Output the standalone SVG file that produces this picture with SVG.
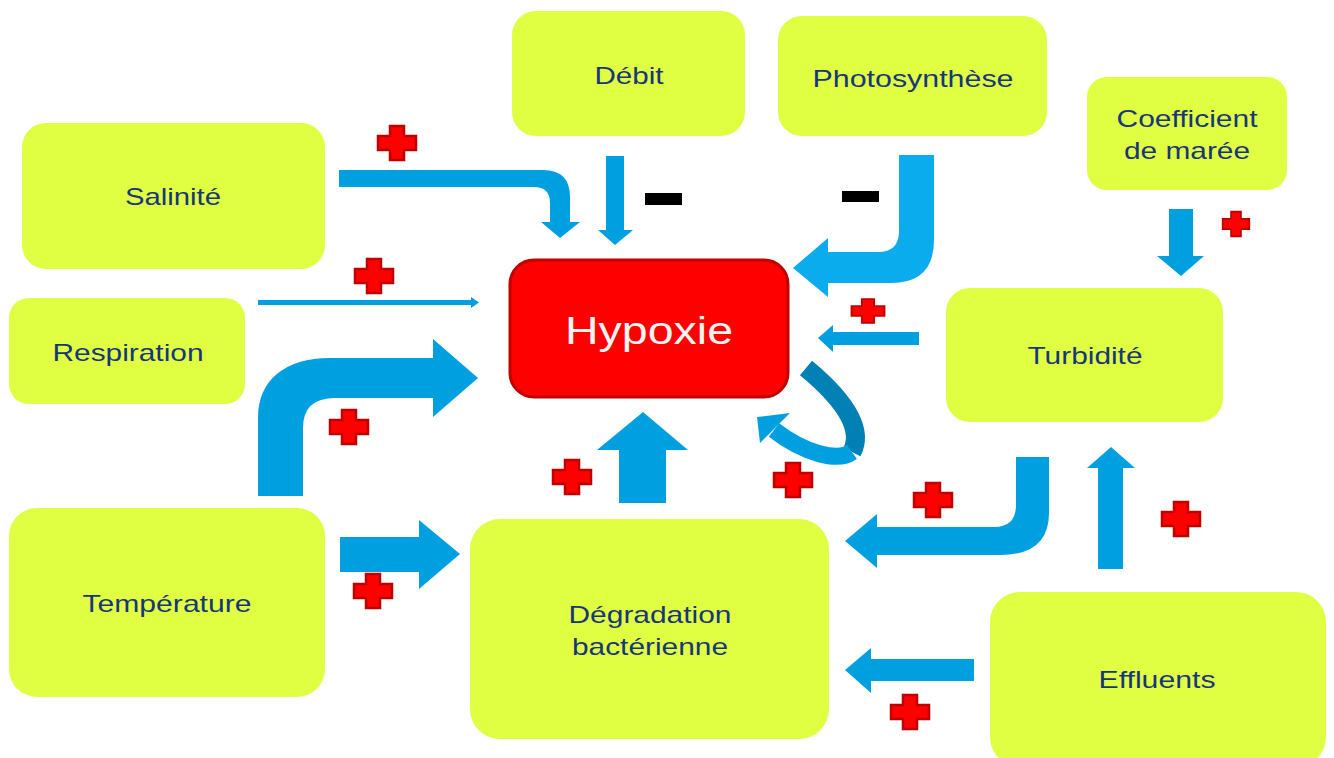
<svg xmlns="http://www.w3.org/2000/svg" width="1334" height="758" viewBox="0 0 1334 758">
<defs>
<style>
.node{fill:#e0ff42;}
.lbl{font-family:"Liberation Sans",Arial,sans-serif;font-size:24px;fill:#17367a;text-anchor:middle;}
.hyp{fill:#ff0000;stroke:#c00000;stroke-width:3;}
.hlbl{font-family:"Liberation Sans",Arial,sans-serif;font-size:39px;fill:#f4f4f4;text-anchor:middle;}
.arr{fill:#00a0e0;}
.arr2{fill:#0aacee;}
.minus{fill:#000;}
.plus{fill:#ff0000;stroke:#c00000;stroke-width:2.5;}
</style>
<path id="plus" d="M-7,-17 H7 V-7 H19 V7 H7 V17 H-7 V7 H-19 V-7 H-7 Z"/>
</defs>
<rect width="1334" height="758" fill="#ffffff"/>

<g id="connectors">
<!-- Salinité -> Hypoxie -->
<path class="arr" d="M339,170 L543,170 Q570,170 570,197 L570,222 L580,222 L560,238 L541,222 L550,222 L550,203 Q550,187 534,187 L339,187 Z"/>
<!-- Débit -> Hypoxie -->
<path class="arr" d="M606,156 L624,156 L624,230 L633,230 L615,245 L598,230 L606,230 Z"/>
<!-- Photosynthèse -> Hypoxie -->
<path class="arr2" d="M899,155 L934,155 L934,240 Q934,283 891,283 L828,283 L828,297 L793,268 L828,238 L828,252 L878,252 Q899,252 899,231 Z"/>
<!-- Respiration -> Hypoxie -->
<path class="arr" d="M258,300 L471,300 L471,297 L479,302.5 L471,308 L471,305 L258,305 Z"/>
<!-- Température -> Hypoxie (bent) -->
<path class="arr" d="M258,496 L258,418 C258,380 285,358 330,358 L433,358 L433,339 L478,378 L433,417 L433,398 L335,398 Q303,398 303,428 L303,496 Z"/>
<!-- Température -> Dégradation -->
<path class="arr" d="M340,537 L419,537 L419,520 L460,554 L419,589 L419,572 L340,572 Z"/>
<!-- Dégradation -> Hypoxie -->
<path class="arr" d="M619,503 L619,450 L597,450 L643,412 L688,450 L666,450 L666,503 Z"/>
<!-- Self loop -->
<path d="M806,368 C835,392 866,425 852,452" fill="none" stroke="#0080b4" stroke-width="19"/>
<path d="M852,452 C838,462 805,454 774,430" fill="none" stroke="#00a0e0" stroke-width="17"/>
<polygon points="757,417 790,413 760,443" fill="#00a0e0"/>
<!-- Turbidité -> Hypoxie -->
<path class="arr" d="M919,332 L833,332 L833,325 L818,338 L833,352 L833,345 L919,345 Z"/>
<!-- Coefficient -> Turbidité -->
<path class="arr" d="M1169,209 L1193,209 L1193,256 L1204,256 L1181,276 L1157,256 L1169,256 Z"/>
<!-- Turbidité/Effluents bend -> Dégradation -->
<path class="arr" d="M1016,457 L1049,457 L1049,513 Q1049,555 1000,555 L877,555 L877,568 L845,541 L877,514 L877,527 L994,527 Q1016,527 1016,505 Z"/>
<!-- Effluents -> Turbidité -->
<path class="arr" d="M1098,569 L1098,468 L1087,468 L1111,447 L1135,468 L1123,468 L1123,569 Z"/>
<!-- Effluents -> Dégradation -->
<path class="arr" d="M974,659 L871,659 L871,648 L845,670 L871,693 L871,681 L974,681 Z"/>

<!-- signs -->
<rect class="minus" x="645" y="193" width="37" height="12"/>
<rect class="minus" x="842" y="191" width="37" height="11"/>
<use href="#plus" class="plus" transform="translate(397,143)"/>
<use href="#plus" class="plus" transform="translate(374,276)"/>
<use href="#plus" class="plus" transform="translate(349,427)"/>
<use href="#plus" class="plus" transform="translate(373,591)"/>
<use href="#plus" class="plus" transform="translate(572,477)"/>
<use href="#plus" class="plus" transform="translate(793,480)"/>
<use href="#plus" class="plus" transform="translate(933,500)"/>
<use href="#plus" class="plus" transform="translate(1181,519)"/>
<use href="#plus" class="plus" transform="translate(910,712)"/>
<use href="#plus" class="plus" transform="translate(868,311) scale(0.86,0.7)"/>
<use href="#plus" class="plus" transform="translate(1236,224) scale(0.7,0.72)"/>
</g>

<g id="salinite"><rect class="node" x="22" y="123" width="303" height="146" rx="24"/><text class="lbl" x="173" y="205" textLength="96" lengthAdjust="spacingAndGlyphs">Salinité</text></g>
<g id="respiration"><rect class="node" x="9" y="298" width="236" height="106" rx="20"/><text class="lbl" x="128" y="361" textLength="151" lengthAdjust="spacingAndGlyphs">Respiration</text></g>
<g id="temperature"><rect class="node" x="9" y="508" width="316" height="189" rx="28"/><text class="lbl" x="167" y="612" textLength="169" lengthAdjust="spacingAndGlyphs">Température</text></g>
<g id="debit"><rect class="node" x="512" y="11" width="233" height="125" rx="24"/><text class="lbl" x="629" y="84" textLength="69" lengthAdjust="spacingAndGlyphs">Débit</text></g>
<g id="photosynthese"><rect class="node" x="778" y="16" width="269" height="120" rx="24"/><text class="lbl" x="913" y="87" textLength="201" lengthAdjust="spacingAndGlyphs">Photosynthèse</text></g>
<g id="coefficient"><rect class="node" x="1087" y="77" width="200" height="113" rx="20"/><text class="lbl" x="1187" y="127" textLength="141" lengthAdjust="spacingAndGlyphs">Coefficient</text><text class="lbl" x="1187" y="159" textLength="126" lengthAdjust="spacingAndGlyphs">de marée</text></g>
<g id="turbidite"><rect class="node" x="946" y="288" width="277" height="134" rx="24"/><text class="lbl" x="1085" y="364" textLength="115" lengthAdjust="spacingAndGlyphs">Turbidité</text></g>
<g id="degradation"><rect class="node" x="470" y="519" width="359" height="220" rx="30"/><text class="lbl" x="650" y="623" textLength="163" lengthAdjust="spacingAndGlyphs">Dégradation</text><text class="lbl" x="650" y="655" textLength="156" lengthAdjust="spacingAndGlyphs">bactérienne</text></g>
<g id="effluents"><rect class="node" x="990" y="592" width="336" height="175" rx="30"/><text class="lbl" x="1157" y="688" textLength="117" lengthAdjust="spacingAndGlyphs">Effluents</text></g>
<g id="hypoxie"><rect class="hyp" x="510" y="260" width="278" height="137" rx="24"/><text class="hlbl" x="649" y="344" textLength="168" lengthAdjust="spacingAndGlyphs">Hypoxie</text></g>
</svg>
